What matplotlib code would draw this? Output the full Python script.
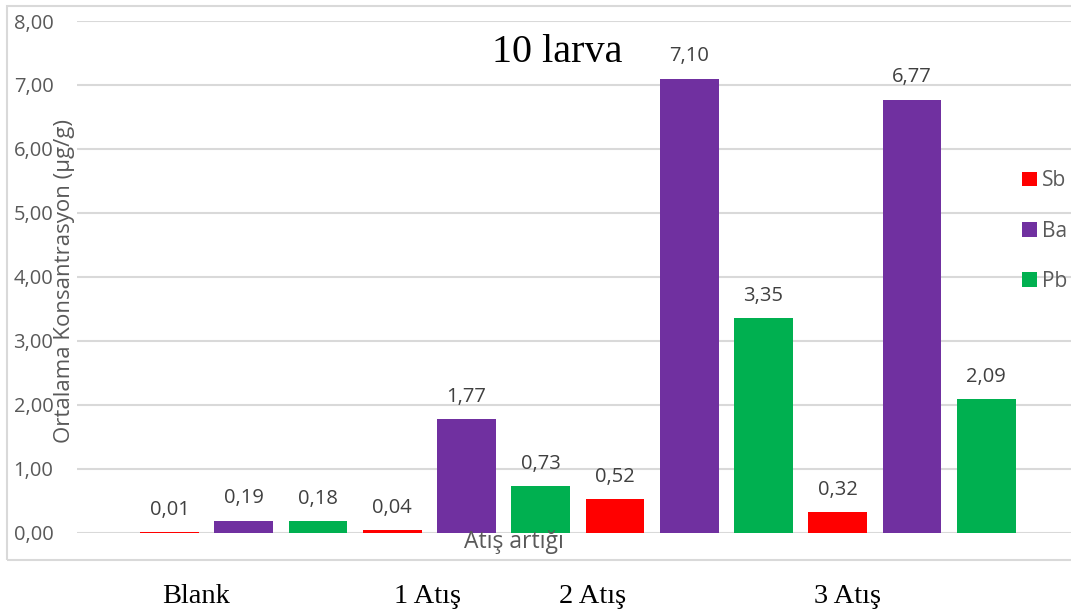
import matplotlib
matplotlib.use('agg')
import matplotlib.pyplot as plt
from matplotlib.patches import Rectangle, Patch
from matplotlib.ticker import MultipleLocator, FuncFormatter

plt.rcParams['font.family'] = ['Open Sans', 'DejaVu Sans']

# data
groups = ['Blank', '1 Atış', '2 Atış', '3 Atış']
elements = ['Sb', 'Ba', 'Pb']
sb = [0.01, 0.04, 0.52, 0.32]
ba = [0.19, 1.77, 7.10, 6.77]
pb = [0.18, 0.73, 3.35, 2.09]
colors = {'Sb': '#FF0000', 'Ba': '#7030A0', 'Pb': '#00B050'}

W, H = 1071, 610
fig = plt.figure(figsize=(W / 100, H / 100), dpi=100)
ax = fig.add_axes([77 / W, (H - 532.7) / H, 1 - 77 / W, (532.7 - 21) / H])

series = {'Sb': sb, 'Ba': ba, 'Pb': pb}
for g in range(len(groups)):
    for k, el in enumerate(elements):
        pos = g * 3 + k
        v = series[el][g]
        ax.bar(pos, v, width=0.79, color=colors[el], zorder=3)
        ax.annotate(('%.2f' % v).replace('.', ','), (pos, v), xytext=(0, 9),
                    textcoords='offset points', ha='center', va='bottom',
                    fontsize=14.5, color='#404040')

ax.set_xlim(-1.245, 12.14)
ax.set_ylim(0, 8)
ax.yaxis.set_major_locator(MultipleLocator(1))
ax.yaxis.set_major_formatter(FuncFormatter(lambda v, p: ('%.2f' % v).replace('.', ',')))
ax.grid(axis='y', color='#D9D9D9', linewidth=1.5, zorder=0)
ax.set_xticks([])
ax.tick_params(axis='y', length=0, pad=17, labelsize=14.5, labelcolor='#595959')
for s in ax.spines.values():
    s.set_visible(False)

# chart area frame
fig.patches.append(Rectangle((7 / W, (H - 560) / H), 1.2, (560 - 6) / H,
                             transform=fig.transFigure, fill=False,
                             edgecolor='#D9D9D9', linewidth=1.5))

fig.text(65 / W, 1 - 281 / H, 'Ortalama Konsantrasyon (µg/g)', rotation=90,
         ha='center', va='center', fontsize=16, color='#595959')
fig.text(514 / W, 1 - 542 / H, 'Atış artığı', ha='center', va='center',
         fontsize=16.5, color='#595959')
fig.text(557 / W, 1 - 52 / H, '10 larva', ha='center', va='center',
         fontsize=29, family='Liberation Serif', color='black')

label_x = [196, 427, 593, 847]
for lx, g in zip(label_x, groups):
    fig.text(lx / W, 1 - 603 / H, g, ha='center', va='baseline',
             fontsize=20.5, family='Liberation Serif', color='black')

handles = [Patch(facecolor=colors[el], label=el) for el in elements]
leg = ax.legend(handles=handles, loc='upper left', bbox_to_anchor=(1012 / W, 1 - 160 / H),
                bbox_transform=fig.transFigure, frameon=False, fontsize=15,
                handlelength=0.7, handleheight=0.7, handletextpad=0.25,
                labelspacing=1.4, borderpad=0)
for t in leg.get_texts():
    t.set_color('#595959')

fig.savefig('out.png', dpi=100)
